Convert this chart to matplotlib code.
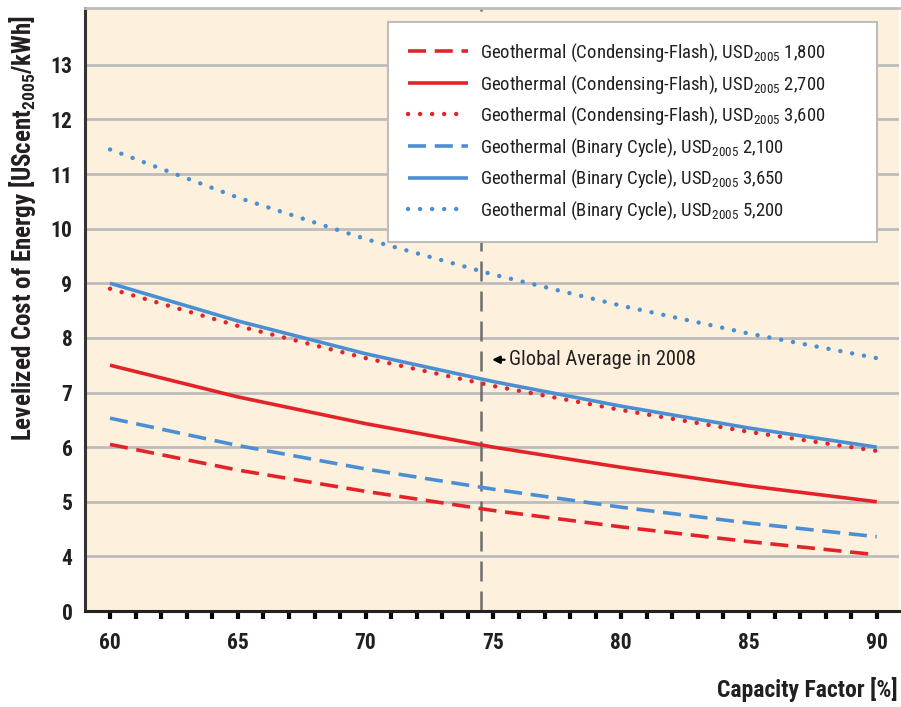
import matplotlib
matplotlib.use("Agg")
import matplotlib.pyplot as plt
from matplotlib import font_manager
from matplotlib.ticker import MultipleLocator, FixedLocator, FixedFormatter

# Pick a condensed sans face if available
available = {f.name for f in font_manager.fontManager.ttflist}
family = "DejaVu Sans"
for cand in ["Liberation Sans Narrow", "Roboto Condensed", "Open Sans Condensed", "Liberation Sans"]:
    if cand in available:
        family = cand
        break
plt.rcParams["font.family"] = [family, "DejaVu Sans"]
plt.rcParams["mathtext.fontset"] = "custom"
plt.rcParams["mathtext.rm"] = family
plt.rcParams["mathtext.it"] = family
plt.rcParams["mathtext.bf"] = family + ":bold"

# ---- data ----
capacity_factor = [60, 65, 70, 75, 80, 85, 90]
flash_1800 = [6.05, 5.58, 5.19, 4.84, 4.54, 4.27, 4.03]
flash_2700 = [7.50, 6.92, 6.43, 6.00, 5.63, 5.29, 5.00]
flash_3600 = [8.90, 8.22, 7.63, 7.12, 6.68, 6.28, 5.93]
binary_2100 = [6.53, 6.03, 5.60, 5.23, 4.90, 4.61, 4.36]
binary_3650 = [9.00, 8.31, 7.71, 7.20, 6.75, 6.35, 6.00]
binary_5200 = [11.45, 10.57, 9.81, 9.16, 8.59, 8.08, 7.63]

series_labels = [
    "Geothermal (Condensing-Flash), USD$_{2005}$ 1,800",
    "Geothermal (Condensing-Flash), USD$_{2005}$ 2,700",
    "Geothermal (Condensing-Flash), USD$_{2005}$ 3,600",
    "Geothermal (Binary Cycle), USD$_{2005}$ 2,100",
    "Geothermal (Binary Cycle), USD$_{2005}$ 3,650",
    "Geothermal (Binary Cycle), USD$_{2005}$ 5,200",
]

global_average_cf = 74.5
ytick_values = [3, 4, 5, 6, 7, 8, 9, 10, 11, 12, 13]
ytick_labels = ["0", "4", "5", "6", "7", "8", "9", "10", "11", "12", "13"]
xtick_values = [60, 65, 70, 75, 80, 85, 90]

RED = "#E2242A"
BLUE = "#4A8FD3"
BG = "#FDF0DC"
GRID = "#BDBDBD"
TXT = "#231F20"

fig = plt.figure(figsize=(9.01, 7.07), dpi=100)
ax = fig.add_axes([85 / 901, 96 / 707, 814 / 901, 603 / 707])
ax.set_facecolor(BG)

lw = 2.6
dash = (0, (5.0, 2.4))
dot = (0, (0.01, 2.7))

series = [
    (flash_1800, RED, dash),
    (flash_2700, RED, "-"),
    (flash_3600, RED, dot),
    (binary_2100, BLUE, dash),
    (binary_3650, BLUE, "-"),
    (binary_5200, BLUE, dot),
]
draw_order = [0, 3, 1, 2, 4, 5]
handles = [None] * 6
for i in draw_order:
    vals, col, ls = series[i]
    line_w = 3.2 if ls is dot else lw
    (h,) = ax.plot(capacity_factor, vals, color=col, linestyle=ls, lw=line_w,
                   dash_capstyle="round" if ls is dot else "butt",
                   solid_capstyle="butt", zorder=4 if ls == "-" else 3,
                   label=series_labels[i])
    handles[i] = h

ax.axvline(global_average_cf, color="#6E6E6E", lw=1.8, linestyle=(0, (8, 4)), zorder=2)
ax.annotate("Global Average in 2008", xy=(74.95, 7.6), xytext=(75.6, 7.6),
            va="center", ha="left", fontsize=14.8, color=TXT,
            arrowprops=dict(arrowstyle="-|>,head_length=0.3,head_width=0.15",
                            color="black", lw=1.6, shrinkA=1, shrinkB=0),
            zorder=5)

ax.set_xlim(59.02, 90.87)
ax.set_ylim(3, 14.04)

ax.yaxis.set_major_locator(FixedLocator(ytick_values))
ax.yaxis.set_major_formatter(FixedFormatter(ytick_labels))
ax.set_xticks(xtick_values)
ax.xaxis.set_minor_locator(MultipleLocator(1))
ax.grid(axis="y", color=GRID, lw=2.0, zorder=1)
ax.set_axisbelow(True)

ax.tick_params(axis="y", length=0, labelsize=15.5, labelcolor=TXT, pad=9)
ax.tick_params(axis="x", which="both", direction="out", length=6, width=3,
               color="black", labelsize=15.5, labelcolor=TXT, pad=9)
for lab in ax.get_xticklabels() + ax.get_yticklabels():
    lab.set_fontweight("bold")

ax.spines["right"].set_visible(False)
ax.spines["top"].set_color(GRID)
ax.spines["top"].set_linewidth(2.0)
ax.spines["left"].set_color("#333333")
ax.spines["left"].set_linewidth(2.2)
ax.spines["bottom"].set_color("#222222")
ax.spines["bottom"].set_linewidth(2.2)

fig.text(23 / 901, 1 - 228 / 707, r"Levelized Cost of Energy [UScent$_{\mathbf{2005}}$/kWh]",
         rotation=90, ha="center", va="center", fontsize=18, fontweight="bold", color=TXT)
fig.text(898 / 901, 1 - 690 / 707, "Capacity Factor [%]", ha="right", va="center",
         fontsize=17, fontweight="bold", color=TXT)

leg = ax.legend(handles=handles, loc="upper left",
                bbox_to_anchor=((388 - 85) / 814, (611 - 243) / 603,
                                (877 - 388) / 814, (243 - 22) / 603),
                mode="expand", frameon=True, fancybox=False, fontsize=13.5,
                handlelength=3.2, handletextpad=0.65, labelspacing=0.48,
                borderpad=1.05, borderaxespad=0, labelcolor=TXT)
leg.get_frame().set_edgecolor("#BDBDBD")
leg.get_frame().set_linewidth(1.5)
leg.get_frame().set_facecolor("white")
leg.get_frame().set_alpha(1)
leg.set_zorder(6)

fig.savefig("out.png", dpi=100)
